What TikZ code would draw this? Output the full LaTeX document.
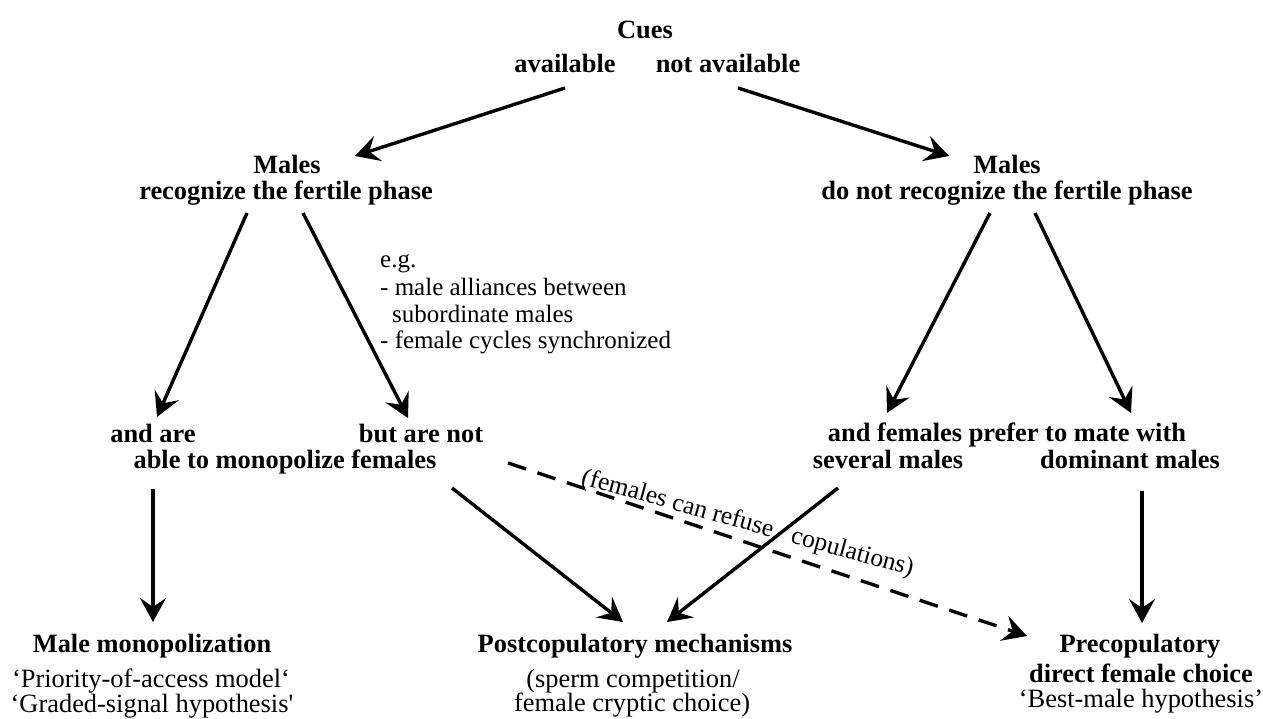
\documentclass[tikz,border=0pt]{standalone}
\usepackage{fontspec}
\setmainfont{Liberation Serif}[Ligatures=TeXOff]
\usetikzlibrary{arrows.meta,calc}
\begin{document}
\begin{tikzpicture}[x=1pt,y=-1pt]
\tikzset{
 hd/.style={font=\fontsize{26.4}{26}\selectfont\bfseries, inner sep=0pt, anchor=base},
 tx/.style={font=\fontsize{26.4}{26}\selectfont, inner sep=0pt, anchor=base},
 note/.style={font=\fontsize{25}{25}\selectfont, inner sep=0pt, anchor=base west},
 lbl/.style={font=\fontsize{25.5}{25}\selectfont, inner sep=0pt, anchor=base west, rotate=-15.5},
 arr/.style={line width=3.4pt, -{Stealth[length=24pt,width=26pt,inset=9pt]}},
 dasharr/.style={arr, dash pattern=on 19pt off 12pt},
}
\useasboundingbox (0,0) rectangle (1263,718);
% nodes
\node[hd] (cues) at (645,38) {Cues};
\node[hd] (avail) at (565,72) {available};
\node[hd] (navail) at (728,72) {not available};
\node[hd] (mL1) at (287,173) {Males};
\node[hd] (mL2) at (286,199) {recognize the fertile phase};
\node[hd] (mR1) at (1007,173) {Males};
\node[hd] (mR2) at (1007,199) {do not recognize the fertile phase};
\node[note] (eg1) at (380,267) {e.g.};
\node[note] (eg2) at (380,295) {- male alliances between};
\node[note] (eg3) at (392,322) {subordinate males};
\node[note] (eg4) at (380,348) {- female cycles synchronized};
\node[hd] (andare) at (153,442) {and are};
\node[hd] (butnot) at (421,442) {but are not};
\node[hd] (able) at (285,468) {able to monopolize females};
\node[hd] (fem) at (1007,441) {and females prefer to mate with};
\node[hd] (sev) at (888,468) {several males};
\node[hd] (dom) at (1130,468) {dominant males};
\node[hd] (mono1) at (152,652) {Male monopolization};
\node[tx] (mono2) at (151,687) {‘Priority-of-access model‘};
\node[tx] (mono3) at (152,712) {‘Graded-signal hypothesis'};
\node[hd] (post1) at (635,652) {Postcopulatory mechanisms};
\node[tx] (post2) at (633,687) {(sperm competition/};
\node[tx] (post3) at (632,711) {female cryptic choice)};
\node[hd] (pre1) at (1140,652) {Precopulatory};
\node[hd] (pre2) at (1141,682) {direct female choice};
\node[tx] (pre3) at (1141,707) {‘Best-male hypothesis’};
\node[lbl] (refuse) at (580,484) {(females can refuse\hspace{13pt} copulations)};
% connectors
\draw[arr] ($(avail.base)+(0,16)$) -- ($(mL1.base)+(68,-17)$);
\draw[arr] ($(navail.base)+(10,16)$) -- ($(mR1.base)+(-58,-17)$);
\draw[arr] ($(mL2.base)+(-39,14)$) -- ($(andare.base)+(4,-25)$);
\draw[arr] ($(mL2.base)+(17,14)$) -- ($(butnot.base)+(-13,-24)$);
\draw[arr] ($(mR2.base)+(-17,14)$) -- ($(fem.base)+(-120,-28)$);
\draw[arr] ($(mR2.base)+(28,14)$) -- ($(fem.base)+(124,-28)$);
\draw[arr] ($(able.base)+(-132,21)$) -- ($(mono1.base)+(1,-30)$);
\draw[arr] ($(able.base)+(167,20)$) -- ($(post1.base)+(-12,-30)$);
\draw[arr] ($(sev.base)+(-50,20)$) -- ($(post1.base)+(32,-30)$);
\draw[arr] ($(dom.base)+(12,23)$) -- ($(pre1.base)+(2,-29)$);
\draw[dasharr] ($(able.base)+(223,-5)$) -- ($(pre1.base)+(-113,-16)$);
\end{tikzpicture}
\end{document}
